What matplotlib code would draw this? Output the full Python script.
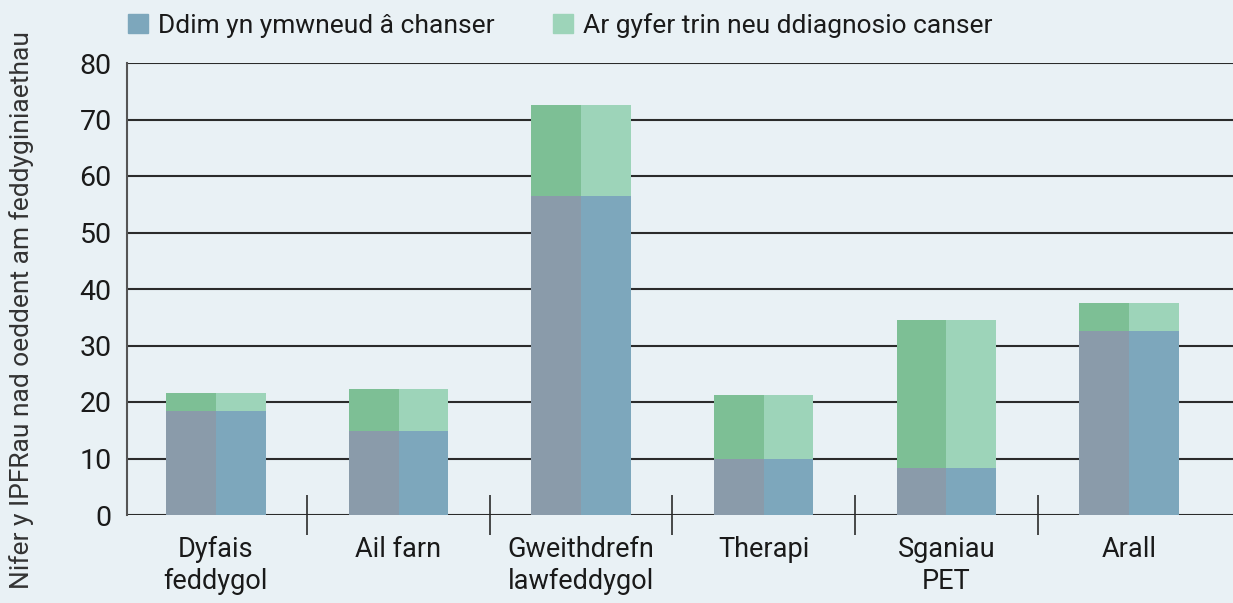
import numpy as np
import matplotlib
matplotlib.use('Agg')
import matplotlib.pyplot as plt
from matplotlib.patches import Patch

plt.rcParams['font.family'] = ['Roboto', 'DejaVu Sans']

categories = ["Dyfais\nfeddygol", "Ail farn", "Gweithdrefn\nlawfeddygol",
              "Therapi", "Sganiau\nPET", "Arall"]
not_cancer = [18.4, 14.9, 56.5, 9.9, 8.4, 32.6]
cancer_total = [21.6, 22.3, 72.6, 21.2, 34.5, 37.5]
cancer = [t - n for t, n in zip(cancer_total, not_cancer)]

series_labels = ["Ddim yn ymwneud â chanser", "Ar gyfer trin neu ddiagnosio canser"]
y_label = "Nifer y IPFRau nad oeddent am feddyginiaethau"

BG = '#e9f1f5'
BLUE_DARK, BLUE_LIGHT = '#8a9baa', '#7da7bc'
GREEN_DARK, GREEN_LIGHT = '#7dbf95', '#9dd4b9'
LINE = '#2b2b2b'
TXT = '#1a1a1a'

fig = plt.figure(figsize=(12.33, 6.03), dpi=100, facecolor=BG)
ax = fig.add_axes([127 / 1233, 88 / 603, 1 - 127 / 1233, 452 / 603])
ax.set_facecolor(BG)

x = np.arange(len(categories))
w = 0.545
half = w / 2
ax.bar(x - half / 2, not_cancer, half, color=BLUE_DARK, zorder=3)
ax.bar(x + half / 2, not_cancer, half, color=BLUE_LIGHT, zorder=3)
ax.bar(x - half / 2, cancer, half, bottom=not_cancer, color=GREEN_DARK, zorder=3)
ax.bar(x + half / 2, cancer, half, bottom=not_cancer, color=GREEN_LIGHT, zorder=3)

ax.set_xlim(-0.487, 5.57)
ax.set_ylim(0, 80)
ax.set_yticks(range(0, 81, 10))
ax.yaxis.grid(True, color=LINE, linewidth=1.5, zorder=1)
ax.set_axisbelow(True)

for s in ['top', 'right', 'bottom']:
    ax.spines[s].set_visible(False)
ax.spines['left'].set_color('#555555')
ax.spines['left'].set_linewidth(1.5)

ax.set_xticks(x)
ax.set_xticklabels(categories, fontsize=19.5, linespacing=1.25)
ax.set_xticks(x[:-1] + 0.5, minor=True)
ax.tick_params(axis='x', which='major', length=0, pad=15, colors=TXT)
ax.tick_params(axis='x', which='minor', length=29, direction='inout',
               width=1.2, color=LINE)
ax.tick_params(axis='y', length=0, pad=11, labelsize=20.5, labelcolor=TXT)

fig.text(22 / 1233, 0.485, y_label, rotation=90, fontsize=19,
         ha='center', va='center', color='#333333')

handles = [Patch(color=BLUE_LIGHT), Patch(color=GREEN_LIGHT)]
fig.legend(handles, series_labels, loc='upper left', bbox_to_anchor=(112 / 1233, 1.005),
           ncol=2, frameon=False, fontsize=19, handlelength=0.75, handleheight=0.75,
           handletextpad=0.4, columnspacing=2.2, borderaxespad=0.2, labelcolor=TXT)

fig.savefig('out.png', dpi=100, facecolor=BG)
